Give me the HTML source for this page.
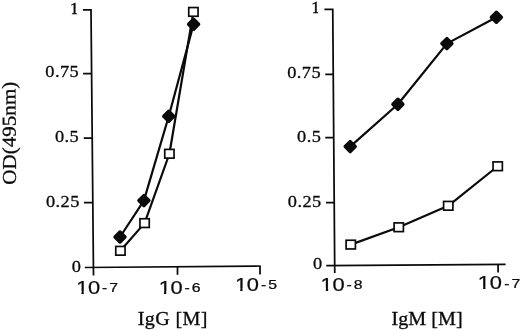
<!DOCTYPE html>
<html><head><meta charset="utf-8">
<style>
html,body{margin:0;padding:0;background:#fff;}
svg{display:block;}
.s{font-family:"Liberation Serif",serif;fill:#0a0a0a;stroke:#0a0a0a;stroke-width:0.3px;}
.h{font-family:"Liberation Sans",sans-serif;fill:#0a0a0a;stroke:#0a0a0a;stroke-width:0.3px;}
</style></head><body>
<svg width="520" height="330" viewBox="0 0 520 330">
<rect width="520" height="330" fill="#fff"/>
<g stroke="#0a0a0a" stroke-width="1.75" fill="none">
<path d="M82.9 9.8H91L93.5 275.6"/>
<path d="M83.1 73.5H91.6M83.75 138.1H92.2M84 202.5H92.9"/>
<path d="M84.75 267.5L260.6 266"/>
<path d="M177.5 266.7V274.75M260 266V274.4"/>
<path d="M324.4 9.4H332.75L334.75 273.1"/>
<path d="M325.25 74.4H333.3M325.25 137.5H333.8M326 202.5H334.2"/>
<path d="M326.25 265.6L505.6 264.4"/>
<path d="M498.1 264.4V272.5"/>
</g>
<g stroke="#0a0a0a" stroke-width="2.2" fill="none" stroke-linejoin="round">
<polyline points="120,237 143.9,200.6 168.75,116.25 193.6,24.25"/>
<polyline points="120.4,250.8 144.6,223.1 169.4,153.75 193.4,11.9"/>
<polyline points="350.2,146.6 397.9,104.25 446.9,43.6 496.4,17.2"/>
<polyline points="350.75,244.6 398.75,227.25 448.25,205.8 497.7,166.25"/>
</g>
<defs>
<rect id="sq" x="-4.65" y="-4.35" width="9.3" height="8.7" fill="#fff" stroke="#0a0a0a" stroke-width="1.7"/>
<rect id="di" x="-4.5" y="-4.5" width="9" height="9" rx="1" fill="#0a0a0a" stroke="#0a0a0a" stroke-width="1.5" stroke-linejoin="round" transform="rotate(45)"/>
</defs>
<use href="#sq" x="120.4" y="250.8"/><use href="#sq" x="144.6" y="223.1"/><use href="#sq" x="169.4" y="153.75"/><use href="#sq" x="193.4" y="11.9"/><use href="#di" x="120" y="237"/><use href="#di" x="143.9" y="200.6"/><use href="#di" x="168.75" y="116.25"/><use href="#di" x="193.6" y="24.25"/>
<use href="#di" x="350.2" y="146.6"/><use href="#di" x="397.9" y="104.25"/><use href="#di" x="446.9" y="43.6"/><use href="#di" x="496.4" y="17.2"/><use href="#sq" x="350.75" y="244.6"/><use href="#sq" x="398.75" y="227.25"/><use href="#sq" x="448.25" y="205.8"/><use href="#sq" x="497.7" y="166.25"/>
<g class="s" font-size="17.3" letter-spacing="0.4">
<text transform="translate(69.82,13.75) scale(1.06,1)">1</text><rect x="70.20" y="12.15" width="1.7" height="2.6" fill="#fff" stroke="none"/><rect x="76.90" y="12.15" width="1.7" height="2.6" fill="#fff" stroke="none"/>
<text transform="translate(45.35,77.3) scale(1.06,1)">0.75</text>
<text transform="translate(54.94,142.2) scale(1.06,1)">0.5</text>
<text transform="translate(45.95,206.9) scale(1.06,1)">0.25</text>
<text transform="translate(71.67,271.6) scale(1.06,1)">0</text>
<text transform="translate(311.02,13.4) scale(1.06,1)">1</text><rect x="311.40" y="11.80" width="1.7" height="2.6" fill="#fff" stroke="none"/><rect x="318.10" y="11.80" width="1.7" height="2.6" fill="#fff" stroke="none"/>
<text transform="translate(287.25,78.4) scale(1.06,1)">0.75</text>
<text transform="translate(297.04,141.6) scale(1.06,1)">0.5</text>
<text transform="translate(287.85,206.5) scale(1.06,1)">0.25</text>
<text transform="translate(312.92,269.4) scale(1.06,1)">0</text>
</g>
<g class="h">
<text transform="translate(76.17,293.6) scale(1.25,1)" font-size="17.5" stroke-width="0.22">1<tspan dx="-0.22">0</tspan></text><rect x="76.47" y="290.99" width="4.99" height="5.5" fill="#fff" stroke="none"/><rect x="83.81" y="290.99" width="4.50" height="5.5" fill="#fff" stroke="none"/><text transform="translate(102.12,292.0) scale(1.22,1)" font-size="12.9" stroke-width="0.25">-<tspan dx="1.64">7</tspan></text>
<text transform="translate(158.67,293.6) scale(1.25,1)" font-size="17.5" stroke-width="0.22">1<tspan dx="-0.22">0</tspan></text><rect x="158.97" y="290.99" width="4.99" height="5.5" fill="#fff" stroke="none"/><rect x="166.31" y="290.99" width="4.50" height="5.5" fill="#fff" stroke="none"/><text transform="translate(184.62,292.0) scale(1.22,1)" font-size="12.9" stroke-width="0.25">-<tspan dx="1.60">6</tspan></text>
<text transform="translate(234.93,290.8) scale(1.25,1)" font-size="17.5" stroke-width="0.22">1<tspan dx="-0.22">0</tspan></text><rect x="235.23" y="288.19" width="4.99" height="5.5" fill="#fff" stroke="none"/><rect x="242.57" y="288.19" width="4.50" height="5.5" fill="#fff" stroke="none"/><text transform="translate(260.88,289.2) scale(1.22,1)" font-size="12.9" stroke-width="0.25">-<tspan dx="1.66">5</tspan></text>
<text transform="translate(320.53,290.5) scale(1.25,1)" font-size="17.5" stroke-width="0.22">1<tspan dx="-0.22">0</tspan></text><rect x="320.83" y="287.89" width="4.99" height="5.5" fill="#fff" stroke="none"/><rect x="328.17" y="287.89" width="4.50" height="5.5" fill="#fff" stroke="none"/><text transform="translate(346.48,288.9) scale(1.22,1)" font-size="12.9" stroke-width="0.25">-<tspan dx="1.64">8</tspan></text>
<text transform="translate(477.83,289.4) scale(1.25,1)" font-size="17.5" stroke-width="0.22">1<tspan dx="-0.22">0</tspan></text><rect x="478.13" y="286.79" width="4.99" height="5.5" fill="#fff" stroke="none"/><rect x="485.47" y="286.79" width="4.50" height="5.5" fill="#fff" stroke="none"/><text transform="translate(504.28,287.79999999999995) scale(1.22,1)" font-size="12.9" stroke-width="0.25">-<tspan dx="1.72">7</tspan></text>
</g>
<g class="s" font-size="19">
<text transform="translate(137.75,324.9) scale(1.06,1)" letter-spacing="0.33">IgG [M]</text>
<text transform="translate(391.5,324.6) scale(1.06,1)" letter-spacing="0.02">IgM [M]</text>
<text transform="translate(16.1,184.7) rotate(-90.4) scale(1.07,1)" font-size="19.7">OD(495nm)</text>
</g>
</svg>
</body></html>
